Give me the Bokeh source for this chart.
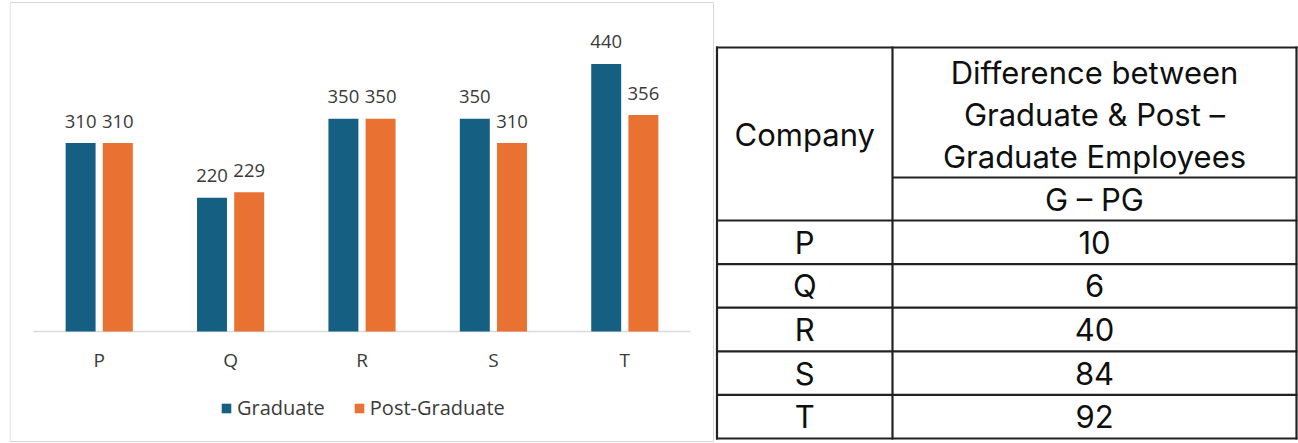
from bokeh.plotting import figure
from bokeh.models import ColumnDataSource, Range1d, FactorRange, Legend, LegendItem
from bokeh.transform import dodge
from bokeh.layouts import row
from bokeh.embed import file_html
from bokeh.resources import INLINE
from bokeh.core.properties import value

# ---------------- data ----------------
companies = ["P", "Q", "R", "S", "T"]
graduate = [310, 220, 350, 350, 440]
post_graduate = [310, 229, 350, 310, 356]
series_names = ["Graduate", "Post-Graduate"]

table_company_header = "Company"
table_header_lines = ["Difference between", "Graduate & Post \u2013", "Graduate Employees"]
table_sub_header = "G \u2013 PG"
table_companies = ["P", "Q", "R", "S", "T"]
table_g_minus_pg = [10, 6, 40, 84, 92]

BLUE = "#156082"
ORANGE = "#E97132"
TXT = "#3a3a3a"
FONT = "Open Sans"

# ---------------- bar chart ----------------
CW, CH = 714, 443
LB = 9                      # left border of chart canvas
CAT_PX = 131.4              # pixels per category
PX_PER_UNIT = 0.608         # pixels per value unit
BASE_PX = 331               # baseline row in the canvas
X0_PX = 33                  # left edge of the first category

pad_each = (CW - LB - CAT_PX * len(companies)) / 2
src = ColumnDataSource(dict(
    cat=companies, g=graduate, pg=post_graduate,
    gl=[str(v) for v in graduate], pgl=[str(v) for v in post_graduate],
))

p = figure(x_range=FactorRange(*companies, range_padding=2 * pad_each / (CAT_PX * len(companies)),
                               range_padding_units="percent"),
           y_range=Range1d(-(CH - BASE_PX) / PX_PER_UNIT, BASE_PX / PX_PER_UNIT),
           width=CW, height=CH, output_backend="svg", toolbar_location=None,
           min_border_left=LB, min_border_right=0, min_border_top=0, min_border_bottom=0,
           x_axis_location=None, y_axis_location=None)
p.outline_line_color = None
p.grid.visible = False


def sx(px):
    return (px - X0_PX) / CAT_PX


def sy(py):
    return (BASE_PX - py) / PX_PER_UNIT


# light frame around the chart area
p.segment(x0=[sx(LB + 0.5), sx(LB + 0.5), sx(LB + 0.5), sx(713)],
          y0=[sy(2), sy(441), sy(2), sy(2)],
          x1=[sx(713), sx(713), sx(LB + 0.5), sx(713)],
          y1=[sy(2), sy(441), sy(441), sy(441)],
          line_color="#d6d6d6", line_width=1)

# baseline (category axis line)
p.segment(x0=[0], y0=[0], x1=[len(companies)], y1=[0], line_color="#d9d9d9", line_width=1.5)

off = 0.1415
bw = 0.228
r1 = p.vbar(x=dodge("cat", -off, range=p.x_range), top="g", width=bw, bottom=0,
            source=src, fill_color=BLUE, line_color=None)
r2 = p.vbar(x=dodge("cat", off, range=p.x_range), top="pg", width=bw, bottom=0,
            source=src, fill_color=ORANGE, line_color=None)

for col, txt, o in (("g", "gl", -off), ("pg", "pgl", off)):
    p.text(x=dodge("cat", o, range=p.x_range), y=col, text=txt, source=src,
           text_align="center", text_baseline="alphabetic", y_offset=-22,
           text_font=value(FONT), text_font_size="18.5px", text_color=TXT)

# category labels
p.text(x=companies, y=[0] * len(companies), text=companies, y_offset=28,
       text_align="center", text_baseline="middle",
       text_font=value(FONT), text_font_size="19px", text_color=TXT)

legend = Legend(items=[LegendItem(label=series_names[0], renderers=[r1]),
                       LegendItem(label=series_names[1], renderers=[r2])],
                orientation="horizontal", location=(211, 22),
                glyph_width=12, glyph_height=12, label_standoff=5, spacing=28,
                label_text_font=FONT, label_text_font_size="20px",
                label_text_color=TXT, border_line_color=None,
                background_fill_alpha=0, margin=0, padding=4)
p.add_layout(legend)

# ---------------- table ----------------
TW, TH = 1298 - CW, CH
t = figure(width=TW, height=TH, x_range=Range1d(0, TW), y_range=Range1d(TH, 0),
           output_backend="svg", toolbar_location=None, min_border=0,
           x_axis_location=None, y_axis_location=None)
t.outline_line_color = None
t.grid.visible = False

x_left, x_div, x_right = 2.5, 178, 582
y_top, y_h1, y_h2 = 47, 177, 220
row_h = (438 - y_h2) / len(table_companies)
row_edges = [y_h2 + i * row_h for i in range(len(table_companies) + 1)]
y_bot = row_edges[-1]

x0s, y0s, x1s, y1s = [], [], [], []
for yy in [y_top] + row_edges:
    x0s.append(x_left - 1); x1s.append(x_right + 1); y0s.append(yy); y1s.append(yy)
x0s.append(x_div); x1s.append(x_right); y0s.append(y_h1); y1s.append(y_h1)
for xx in (x_left, x_div, x_right):
    x0s.append(xx); x1s.append(xx); y0s.append(y_top - 1); y1s.append(y_bot + 1)
t.segment(x0=x0s, y0=y0s, x1=x1s, y1=y1s, line_color="#222222", line_width=2.2)

TF = value("Inter")
TCOL = "#0f0f0f"
TFS = "31px"
cx_left = (x_left + x_div) / 2
cx_right = (x_div + x_right) / 2

t.text(x=[cx_left], y=[(y_top + y_h2) / 2], text=[table_company_header],
       text_align="center", text_baseline="middle", text_font=TF,
       text_font_size=TFS, text_color=TCOL)
t.text(x=[cx_right] * 3, y=[72, 114, 156],
       text=table_header_lines, text_align="center", text_baseline="middle",
       text_font=TF, text_font_size=TFS, text_color=TCOL)
t.text(x=[cx_right], y=[(y_h1 + y_h2) / 2], text=[table_sub_header],
       text_align="center", text_baseline="middle", text_font=TF,
       text_font_size=TFS, text_color=TCOL)

centers = [(row_edges[i] + row_edges[i + 1]) / 2 for i in range(len(table_companies))]
t.text(x=[cx_left] * len(centers), y=centers, text=table_companies,
       text_align="center", text_baseline="middle", text_font=TF,
       text_font_size=TFS, text_color=TCOL)
t.text(x=[cx_right] * len(centers), y=centers, text=[str(v) for v in table_g_minus_pg],
       text_align="center", text_baseline="middle", text_font=TF,
       text_font_size=TFS, text_color=TCOL)

layout = row(p, t)
open("out.html", "w").write(file_html(layout, INLINE))
